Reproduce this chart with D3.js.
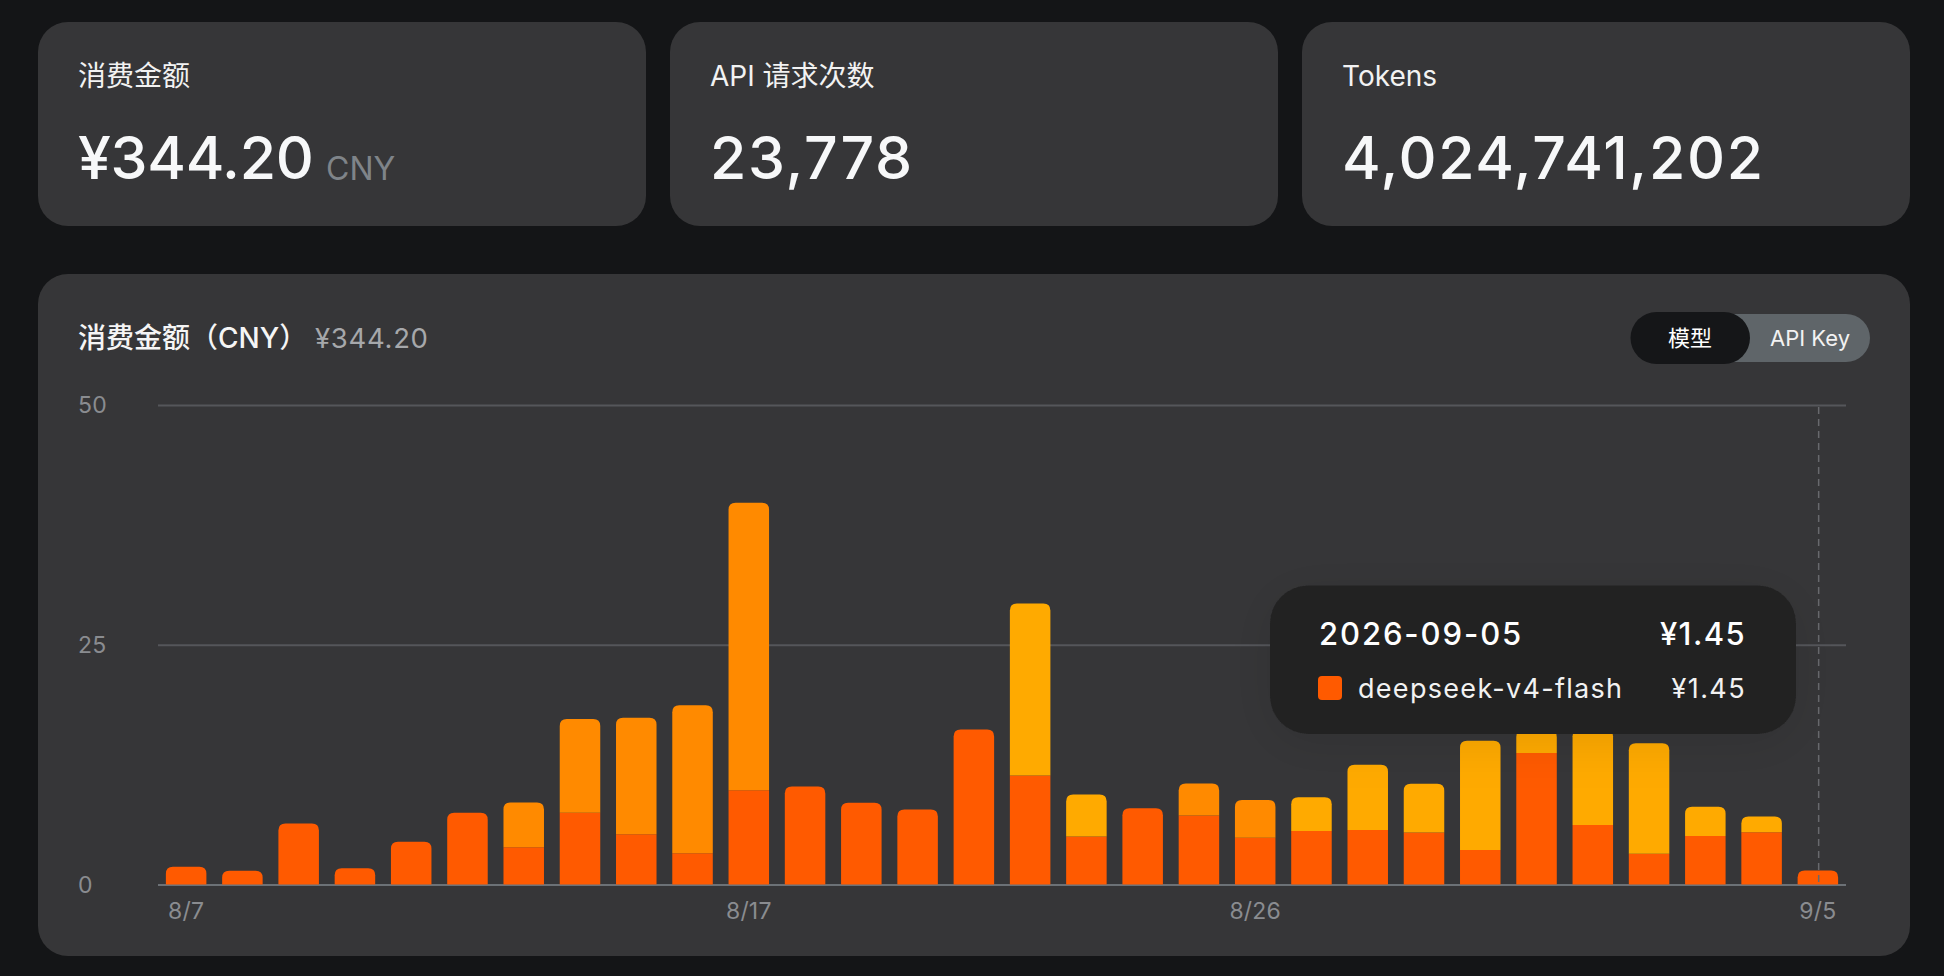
<!DOCTYPE html>
<html><head><meta charset="utf-8">
<script src="https://cdn.jsdelivr.net/npm/d3@7"></script>
<style>
html,body{margin:0;padding:0;background:#141517;overflow:hidden}
svg{display:block}
text{font-family:Inter,"Noto Sans CJK SC",sans-serif}
</style></head><body>
<svg id="c" width="1944" height="976"></svg>
<script>
const dates=["8/7","8/8","8/9","8/10","8/11","8/12","8/13","8/14","8/15","8/16","8/17","8/18","8/19","8/20","8/21","8/22","8/23","8/24","8/25","8/26","8/27","8/28","8/29","8/30","8/31","9/1","9/2","9/3","9/4","9/5"];
const tickLabels=["8/7","8/17","8/26","9/5"];
const yTicks=[0,25,50];
const flash=[1.84,1.43,6.36,1.70,4.45,7.47,3.89,7.47,5.25,3.27,9.84,10.22,8.52,7.82,16.16,11.37,5.0,7.96,7.2,4.87,5.58,5.69,5.42,3.61,13.7,6.2,3.2,5.05,5.46,1.45];
const orange=[0,0,0,0,0,0,4.66,9.8,12.13,15.42,29.96,0,0,0,0,0,0,0,3.33,3.95,0,0,0,0,0,0,0,0,0,0];
const yellow=[0,0,0,0,0,0,0,0,0,0,0,0,0,0,0,17.93,4.38,0,0,0,3.52,6.81,5.08,11.39,2.4,10.0,11.52,3.05,1.62,0];
const seriesNames=["deepseek-v4-flash","orange","yellow"];
const seriesColors=["#ff5a00","#ff8a00","#ffaa00"];
const cardLabels=["消费金额","API 请求次数","Tokens"];
const cardValues=["¥344.20","23,778","4,024,741,202"];
const cardSpacing=[-0.3,1.7,1.7];
const cardX=[38,670,1302];

const svg=d3.select("#c");
const defs=svg.append("defs");
const f=defs.append("filter").attr("id","sh").attr("x","-20%").attr("y","-30%").attr("width","140%").attr("height","170%");
f.append("feDropShadow").attr("dx",0).attr("dy",8).attr("stdDeviation",24).attr("flood-color","#000").attr("flood-opacity",0.10);

const panel="#363638";
cardLabels.forEach((c,i)=>{
  const g=svg.append("g").attr("transform",`translate(${cardX[i]},22)`);
  g.append("rect").attr("width",608).attr("height",204).attr("rx",30).attr("fill",panel);
  g.append("text").attr("x",40).attr("y",64).attr("font-size",28).attr("fill","#f2f2f2").text(c);
  g.append("text").attr("x",40).attr("y",157).attr("font-size",59).attr("font-weight",500).attr("letter-spacing",cardSpacing[i]).attr("fill","#f7f8f9").text(cardValues[i]);
  if(i===0)g.append("text").attr("x",288).attr("y",157.5).attr("font-size",32).attr("fill","#7f8489").text("CNY");
});
svg.append("rect").attr("x",38).attr("y",274).attr("width",1872).attr("height",682).attr("rx",30).attr("fill",panel);
svg.append("text").attr("x",78).attr("y",348).attr("font-size",28).attr("font-weight",500).attr("fill","#f5f5f5").text("消费金额（CNY）");
svg.append("text").attr("x",315).attr("y",348).attr("font-size",27.5).attr("letter-spacing",0.7).attr("fill","#a6a8ab").text("¥344.20");

// toggle
svg.append("rect").attr("x",1700).attr("y",314).attr("width",170).attr("height",48).attr("rx",24).attr("fill","#5f6569");
svg.append("rect").attr("x",1630.5).attr("y",312).attr("width",119.5).attr("height",52).attr("rx",26).attr("fill","#151618");
svg.append("text").attr("x",1690).attr("y",346).attr("text-anchor","middle").attr("font-size",22).attr("font-weight",400).attr("fill","#fff").text("模型");
svg.append("text").attr("x",1770).attr("y",346).attr("font-size",22).attr("fill","#f2f2f2").text("API Key");

const x=d3.scaleBand().domain(dates).range([158,1846]).paddingInner(0.28).paddingOuter(0.14);
const y=d3.scaleLinear().domain([0,50]).range([884.5,405]);

// y axis + grid
const ya=svg.append("g").attr("transform","translate(158,0)").call(d3.axisLeft(y).tickValues(yTicks).tickSize(-1688));
ya.select(".domain").remove();
ya.selectAll(".tick line").attr("stroke",d=>d===0?"#6c7176":"#55565a").attr("stroke-width",2);
ya.selectAll(".tick text").attr("x",-80).attr("dy","0.34em").attr("text-anchor","start").attr("font-size",23).attr("letter-spacing",0.3).attr("fill","#8a8c90").style("font-family",'Inter,sans-serif');

const rows=dates.map((d,i)=>({date:d,flash:flash[i],orange:orange[i],yellow:yellow[i]}));
const stack=d3.stack().keys(["flash","orange","yellow"])(rows);
const r=7;
rows.forEach((row,i)=>{
  stack.forEach((s,k)=>{
    const d=s[i]; if(d[1]-d[0]<=0)return;
    const isTop=k===stack.length-1||stack.slice(k+1).every(q=>q[i][1]-q[i][0]<=0);
    const x0=x(row.date),w=x.bandwidth(),y0=y(d[0]),y1=y(d[1]);
    const rr=isTop?Math.min(r,y0-y1):0;
    svg.append("path").attr("fill",seriesColors[k])
      .attr("d",`M${x0},${y0}V${y1+rr}Q${x0},${y1} ${x0+rr},${y1}H${x0+w-rr}Q${x0+w},${y1} ${x0+w},${y1+rr}V${y0}Z`);
  });
});

// x axis labels
const xa=svg.append("g").attr("transform","translate(0,884.5)").call(d3.axisBottom(x).tickValues(tickLabels).tickSize(0).tickPadding(18));
xa.select(".domain").remove();
xa.selectAll(".tick text").attr("font-size",23).attr("letter-spacing",0.2).attr("fill","#8a8c90").style("font-family",'Inter,sans-serif');

// crosshair
const cx=x("9/5")+x.bandwidth()/2+0.8;
svg.append("line").attr("x1",cx).attr("x2",cx).attr("y1",407).attr("y2",884).attr("stroke","#68696d").attr("stroke-width",1.5).attr("stroke-dasharray","7 5");

// tooltip
svg.append("rect").attr("x",1270).attr("y",585.5).attr("width",526).attr("height",148.5).attr("rx",38).attr("fill","#232323").attr("filter","url(#sh)");
svg.append("text").attr("x",1319).attr("y",645).attr("font-size",31).attr("font-weight",450).attr("letter-spacing",1.9).attr("fill","#fff").text("2026-09-05");
svg.append("text").attr("x",1746).attr("y",645).attr("text-anchor","end").attr("font-size",31).attr("font-weight",450).attr("letter-spacing",1.4).attr("fill","#fff").text("¥1.45");
svg.append("rect").attr("x",1318).attr("y",676).attr("width",24).attr("height",24).attr("rx",4).attr("fill",seriesColors[0]);
svg.append("text").attr("x",1358).attr("y",698).attr("font-size",27).attr("letter-spacing",1.3).attr("fill","#f2f2f2").text(seriesNames[0]);
svg.append("text").attr("x",1746).attr("y",698).attr("text-anchor","end").attr("font-size",27).attr("letter-spacing",1.4).attr("fill","#f2f2f2").text("¥1.45");
</script>
</body></html>
